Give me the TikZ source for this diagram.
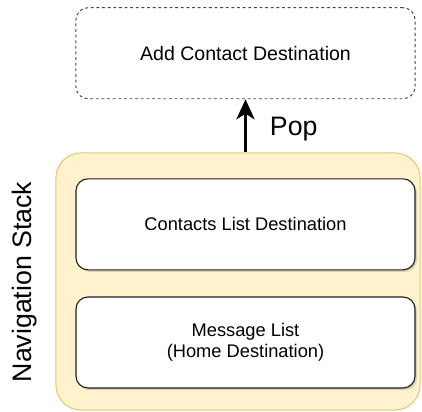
\documentclass[tikz,border=0pt]{standalone}
\usepackage{fontspec}
\setmainfont{Liberation Sans}
\usetikzlibrary{arrows.meta,positioning,shadows}
\definecolor{stackfill}{RGB}{255,242,204}
\definecolor{stackline}{RGB}{228,199,112}
\definecolor{boxline}{RGB}{30,30,30}
\definecolor{dashline}{RGB}{70,70,70}
\tikzset{dbox/.style={rounded corners=0.3cm,minimum width=8.475cm,minimum height=2.275cm,align=center,font=\fontsize{13}{15}\selectfont,inner sep=0pt},dest/.style={dbox,draw=boxline,fill=white,line width=0.8pt,drop shadow={opacity=0.3,shadow xshift=0.05cm,shadow yshift=-0.05cm}},pending/.style={dbox,draw=dashline,fill=white,line width=0.7pt,dash pattern=on 2pt off 2pt,font=\fontsize{13.9}{16}\selectfont},navstack/.style={draw=stackline,fill=stackfill,rounded corners=0.625cm,minimum width=9.1cm,minimum height=6.425cm,line width=0.7pt},popflow/.style={-{Stealth[length=0.5cm,width=0.45cm,inset=0.14cm]},line width=2.6pt,draw=black},big/.style={font=\fontsize{19}{22}\selectfont}}

\begin{document}
\begin{tikzpicture}[x=0.025cm,y=-0.025cm]
\useasboundingbox (0,0) rectangle (422,412);
\node[navstack] (stack) at (238,281.5) {};
\node[dest] (home) at (245.5,342.5) {Message List\\(Home Destination)};
\node[dest,above=0.65cm of home] (contacts) {Contacts List Destination};
\node[pending,above=1.975cm of contacts] (add) {Add Contact Destination};
\draw[popflow] (add.south |- stack.north)--(add.south);
\node[big,anchor=base west] (poplbl) at (265,136) {Pop};
\node[big,rotate=90,anchor=base] (stacklbl) at (31,282) {Navigation Stack};
\end{tikzpicture}
\end{document}
